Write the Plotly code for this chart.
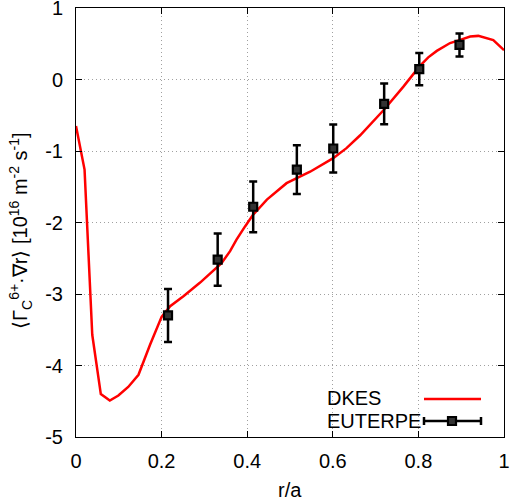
import plotly.graph_objects as go

# DKES curve
dkes_x = [0, 0.02, 0.038, 0.058, 0.079, 0.099, 0.122, 0.146, 0.173, 0.2, 0.22, 0.251,
          0.29, 0.321, 0.34, 0.36, 0.375, 0.395, 0.414, 0.446, 0.473, 0.492, 0.547, 0.601,
          0.632, 0.664, 0.72, 0.765, 0.802, 0.823, 0.843, 0.874, 0.896, 0.921, 0.94, 0.975, 1.0]
dkes_y = [-0.65, -1.26, -3.57, -4.40, -4.49, -4.42, -4.30, -4.13, -3.71, -3.32, -3.17, -3.03,
          -2.84, -2.68, -2.57, -2.40, -2.24, -2.055, -1.89, -1.68, -1.54, -1.45, -1.29, -1.10,
          -0.96, -0.78, -0.42, -0.10, 0.18, 0.31, 0.40, 0.51, 0.55, 0.60, 0.61, 0.55, 0.41]

# EUTERPE points with error bars
eut_x = [0.215, 0.331, 0.414, 0.516, 0.601, 0.720, 0.802, 0.896]
eut_y = [-3.30, -2.52, -1.78, -1.26, -0.965, -0.34, 0.144, 0.483]
eut_err = [0.37, 0.365, 0.355, 0.34, 0.335, 0.285, 0.225, 0.16]

x_ticks = [0, 0.2, 0.4, 0.6, 0.8, 1]
x_labels = ["0", "0.2", "0.4", "0.6", "0.8", "1"]
y_ticks = [1, 0, -1, -2, -3, -4, -5]
y_labels = ["1", "0", "-1", "-2", "-3", "-4", "-5"]

FONT = "Liberation Sans, Arial, Helvetica, sans-serif"
FS = 20

fig = go.Figure()
fig.add_trace(go.Scatter(x=dkes_x, y=dkes_y, mode="lines", name="DKES",
                         line=dict(color="#ff0000", width=2.5), showlegend=False))
fig.add_trace(go.Scatter(x=eut_x, y=eut_y, mode="markers", name="EUTERPE",
                         marker=dict(symbol="square", size=8, color="#333333",
                                     line=dict(width=2.2, color="black")),
                         error_y=dict(type="data", array=eut_err, color="black",
                                      thickness=2.5, width=4),
                         showlegend=False))

axis_common = dict(showline=True, linecolor="black", linewidth=1, mirror="ticks",
                   ticks="inside", ticklen=6, tickcolor="black", showgrid=True,
                   gridcolor="#a0a0a0", griddash="1px,3px", gridwidth=1, zeroline=False,
                   automargin=False, ticklabeloverflow="allow",
                   tickfont=dict(family=FONT, size=FS, color="black"))

fig.update_xaxes(range=[0, 1], tickvals=x_ticks, ticktext=x_labels,
                 ticklabelstandoff=6, **axis_common)
fig.update_yaxes(range=[-5, 1], tickvals=y_ticks, ticktext=y_labels,
                 ticklabelstandoff=8, **axis_common)

# pixel -> paper helpers for titles and the hand-drawn key
def px2x(p):
    return (p - 76) / 428.0

def py2y(p):
    return (437 - p) / 429.0

fig.add_annotation(xref="paper", yref="paper", x=px2x(290), y=py2y(490), text="r/a",
                   showarrow=False, xanchor="center", yanchor="middle",
                   font=dict(family=FONT, size=FS, color="black"))
fig.add_annotation(xref="paper", yref="paper", x=px2x(20), y=py2y(231), textangle=-90,
                   text="⟨Γ<sub>C</sub><sup>6+</sup>·∇r⟩ [10<sup>16</sup> m<sup>-2</sup> s<sup>-1</sup>]",
                   showarrow=False, xanchor="center", yanchor="middle",
                   font=dict(family=FONT, size=FS, color="black"))

fig.add_annotation(xref="paper", yref="paper", x=px2x(325), y=py2y(398), text="DKES",
                   showarrow=False, xanchor="left", yanchor="middle",
                   font=dict(family=FONT, size=FS, color="black"))
fig.add_annotation(xref="paper", yref="paper", x=px2x(325), y=py2y(421), text="EUTERPE",
                   showarrow=False, xanchor="left", yanchor="middle",
                   font=dict(family=FONT, size=FS, color="black"))
fig.add_shape(type="line", xref="paper", yref="paper", x0=px2x(424), x1=px2x(481),
              y0=py2y(399), y1=py2y(399), line=dict(color="#ff0000", width=2.5))
fig.add_shape(type="line", xref="paper", yref="paper", x0=px2x(424), x1=px2x(481),
              y0=py2y(421), y1=py2y(421), line=dict(color="black", width=2.5))
for cx in (424, 481):
    fig.add_shape(type="line", xref="paper", yref="paper", x0=px2x(cx), x1=px2x(cx),
                  y0=py2y(417), y1=py2y(425), line=dict(color="black", width=2.5))
fig.add_shape(type="rect", xref="paper", yref="paper", x0=px2x(448), x1=px2x(456),
              y0=py2y(425), y1=py2y(417), line=dict(color="black", width=2.2),
              fillcolor="#333333")

fig.update_layout(width=515, height=498, margin=dict(l=76, r=11, t=8, b=61),
                  paper_bgcolor="white", plot_bgcolor="white",
                  font=dict(family=FONT, size=FS, color="black"))

fig.write_html("out.html", config={"displayModeBar": False},
               post_script="document.body.style.margin='0';document.body.style.overflow='hidden';")
